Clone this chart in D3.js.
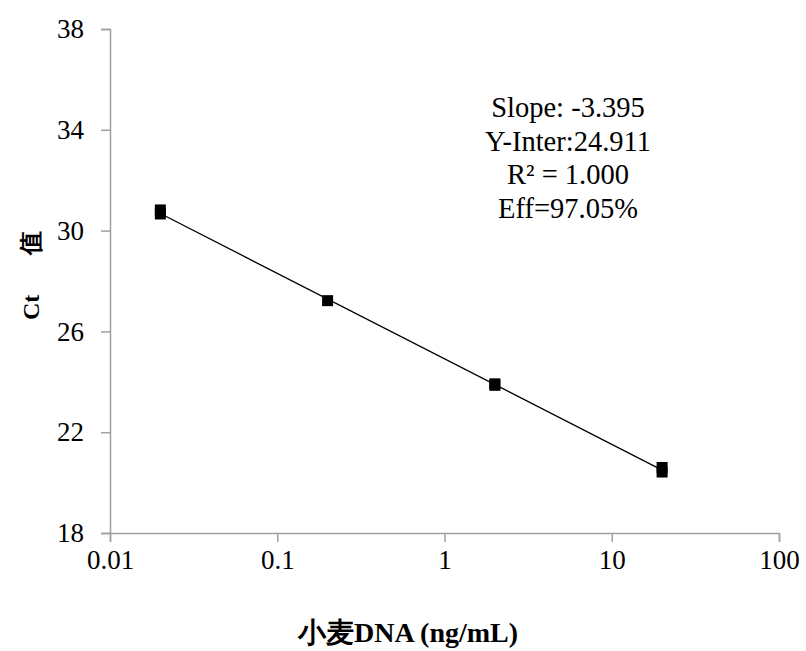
<!DOCTYPE html>
<html>
<head>
<meta charset="utf-8">
<script src="https://cdn.jsdelivr.net/npm/d3@7"></script>
<style>
  body { margin: 0; background: #fff; }
  text { font-family: "Liberation Serif", "Times New Roman", serif; fill: #000; }
</style>
</head>
<body>
<svg id="chart" width="806" height="651"></svg>
<script>
// concentration (ng/mL) and Ct replicates
const concentrations = [0.02, 0.02, 0.2, 2, 2, 20, 20];
const ctValues = [30.82, 30.66, 27.22, 23.92, 23.86, 20.6, 20.42];
const xTicks = [0.01, 0.1, 1, 10, 100];
const yTicks = [18, 22, 26, 30, 34, 38];
const fitSlope = -3.395;
const fitIntercept = 24.911;
const fitRange = [0.02, 20];
const notes = ["Slope: -3.395", "Y-Inter:24.911", "R² = 1.000", "Eff=97.05%"];

const svg = d3.select("#chart");
const margin = { left: 110, right: 27, top: 29, bottom: 118 };
const W = 806, H = 651;

const x = d3.scaleLog().domain([0.01, 100]).range([margin.left, W - margin.right]);
const y = d3.scaleLinear().domain([18, 38]).range([H - margin.bottom, margin.top]);

const axisColor = "#a0a0a0";

const gx = svg.append("g")
	.attr("transform", `translate(0,${H - margin.bottom})`)
	.call(d3.axisBottom(x).tickValues(xTicks).tickFormat(d => String(d)).tickSize(9).tickPadding(8));
const gy = svg.append("g")
	.attr("transform", `translate(${margin.left},0)`)
	.call(d3.axisLeft(y).tickValues(yTicks).tickSize(9).tickPadding(17));

[gx, gy].forEach(g => {
	g.select(".domain").attr("stroke", axisColor).attr("stroke-width", 1.5);
	g.selectAll(".tick line").attr("stroke", axisColor).attr("stroke-width", 1.5);
	g.selectAll(".tick text")
		.attr("font-family", "Liberation Serif, Times New Roman, serif")
		.attr("font-size", 27)
		.attr("fill", "#000");
});

// trend line from the regression coefficients
const fitLine = fitRange.map(c => [c, fitSlope * Math.log10(c) + fitIntercept]);
svg.append("path")
	.datum(fitLine)
	.attr("fill", "none")
	.attr("stroke", "#000")
	.attr("stroke-width", 1.3)
	.attr("d", d3.line().x(d => x(d[0])).y(d => y(d[1])));

// square markers
const sq = 11;
svg.append("g").selectAll("rect")
	.data(concentrations.map((c, i) => [c, ctValues[i]]))
	.join("rect")
	.attr("x", d => x(d[0]) - sq / 2)
	.attr("y", d => y(d[1]) - sq / 2)
	.attr("width", sq)
	.attr("height", sq)
	.attr("fill", "#000");

// annotation block
svg.append("text")
	.attr("x", 568)
	.attr("y", 117)
	.attr("text-anchor", "middle")
	.attr("font-size", 28.5)
	.selectAll("tspan")
	.data(notes)
	.join("tspan")
	.attr("x", 568)
	.attr("dy", (d, i) => i === 0 ? 0 : 33.5)
	.text(d => d);

// axis titles
const yTitle = svg.append("text")
	.attr("transform", "translate(39,320) rotate(-90)")
	.attr("font-weight", "bold")
	.attr("font-size", 24);
yTitle.append("tspan").text("Ct");
yTitle.append("tspan").attr("dx", 40).text("值");

svg.append("text")
	.attr("x", 408)
	.attr("y", 642)
	.attr("text-anchor", "middle")
	.attr("font-weight", "bold")
	.attr("font-size", 28)
	.text("小麦DNA (ng/mL)");
</script>
</body>
</html>
